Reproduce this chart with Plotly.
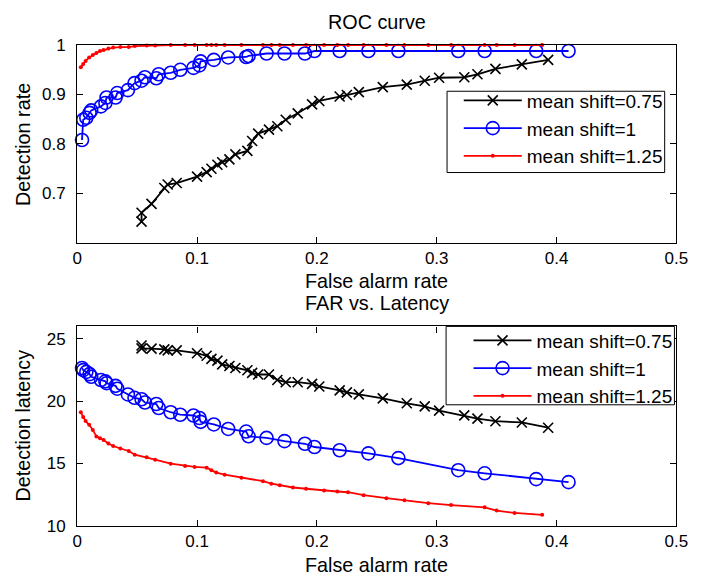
import plotly.graph_objects as go

# ---- data ----
far_075 = [0.0537, 0.0537, 0.062, 0.0727, 0.0755, 0.083, 0.100, 0.108, 0.112, 0.117,
           0.121, 0.127, 0.132, 0.142, 0.146, 0.151, 0.160, 0.167, 0.174, 0.184,
           0.196, 0.202, 0.219, 0.225, 0.235, 0.255, 0.275, 0.290, 0.302, 0.323,
           0.334, 0.349, 0.371, 0.393]
dr_075 = [0.643, 0.661, 0.679, 0.711, 0.718, 0.721, 0.734, 0.743, 0.750, 0.758,
          0.763, 0.769, 0.779, 0.786, 0.806, 0.821, 0.829, 0.836, 0.849, 0.862,
          0.880, 0.887, 0.896, 0.899, 0.905, 0.915, 0.920, 0.928, 0.934, 0.935,
          0.941, 0.952, 0.961, 0.970]
lat_075 = [24.47, 24.24, 24.22, 24.16, 24.08, 24.08, 23.85, 23.64, 23.39, 23.25,
           22.95, 22.82, 22.66, 22.48, 22.27, 22.14, 22.14, 21.70, 21.52, 21.52,
           21.39, 21.18, 20.87, 20.71, 20.54, 20.22, 19.83, 19.58, 19.24, 18.86,
           18.60, 18.39, 18.29, 17.87]

far_1 = [0.004, 0.005, 0.0076, 0.0103, 0.0117, 0.0198, 0.0235, 0.0245, 0.032, 0.0334,
         0.0423, 0.0478, 0.0537, 0.0565, 0.066, 0.068, 0.078, 0.086, 0.097, 0.102,
         0.103, 0.114, 0.126, 0.141, 0.143, 0.158, 0.173, 0.190, 0.198, 0.219,
         0.243, 0.268, 0.318, 0.340, 0.383, 0.410]
dr_1 = [0.808, 0.849, 0.853, 0.863, 0.868, 0.876, 0.883, 0.894, 0.894, 0.903,
        0.909, 0.923, 0.928, 0.935, 0.933, 0.941, 0.944, 0.950, 0.954, 0.959,
        0.967, 0.970, 0.975, 0.976, 0.978, 0.983, 0.983, 0.983, 0.988, 0.988,
        0.988, 0.988, 0.988, 0.988, 0.988, 0.988]
lat_1 = [22.66, 22.49, 22.35, 22.17, 21.96, 21.70, 21.59, 21.44, 21.23, 21.00,
         20.54, 20.27, 20.15, 19.89, 19.77, 19.45, 19.11, 18.91, 18.85, 18.65,
         18.34, 18.13, 17.77, 17.56, 17.18, 17.05, 16.79, 16.58, 16.32, 16.06,
         15.81, 15.43, 14.46, 14.21, 13.74, 13.50]

far_125 = [0.003, 0.005, 0.007, 0.010, 0.013, 0.016, 0.019, 0.022, 0.026, 0.030,
           0.036, 0.043, 0.048, 0.058, 0.065, 0.078, 0.090, 0.098, 0.108, 0.112,
           0.116, 0.123, 0.137, 0.155, 0.162, 0.169, 0.180, 0.191, 0.206, 0.217,
           0.226, 0.239, 0.258, 0.273, 0.293, 0.312, 0.340, 0.350, 0.365, 0.388]
dr_125 = [0.955, 0.962, 0.968, 0.975, 0.980, 0.984, 0.988, 0.990, 0.993, 0.995,
          0.996, 0.996, 0.998, 0.999, 0.999, 1.0, 1.0, 1.0, 1.0, 1.0,
          1.0, 1.0, 1.0, 1.0, 1.0, 1.0, 1.0, 1.0, 1.0, 1.0,
          1.0, 1.0, 1.0, 1.0, 1.0, 1.0, 1.0, 1.0, 1.0, 1.0]
lat_125 = [19.10, 18.72, 18.40, 18.10, 17.69, 17.17, 17.02, 16.88, 16.60, 16.40,
           16.20, 16.00, 15.70, 15.50, 15.30, 14.98, 14.80, 14.72, 14.66, 14.45,
           14.27, 14.10, 13.86, 13.58, 13.38, 13.25, 13.07, 12.97, 12.82, 12.75,
           12.69, 12.45, 12.21, 12.04, 11.81, 11.66, 11.48, 11.22, 11.03, 10.88]

names = ["mean shift=0.75", "mean shift=1", "mean shift=1.25"]
x_ticks = [0, 0.1, 0.2, 0.3, 0.4, 0.5]
x_tick_text = ["0", "0.1", "0.2", "0.3", "0.4", "0.5"]
roc_ticks = [0.7, 0.8, 0.9, 1.0]
roc_tick_text = ["0.7", "0.8", "0.9", "1"]
lat_ticks = [10, 15, 20, 25]

FONT = "Liberation Sans"
W, H = 704, 588

styles = [
    dict(color="black", symbol="x-thin", size=10, lw=1.6),
    dict(color="#0000ff", symbol="circle-open", size=13, lw=1.6),
    dict(color="#ff0000", symbol="circle", size=4, lw=0),
]

fig = go.Figure()
series = [(far_075, dr_075, lat_075), (far_1, dr_1, lat_1), (far_125, dr_125, lat_125)]
for i, (fx, dr, lat) in enumerate(series):
    st = styles[i]
    mk = dict(symbol=st["symbol"], size=st["size"], color=st["color"],
              line=dict(color=st["color"], width=st["lw"]))
    fig.add_trace(go.Scatter(x=fx, y=dr, mode="lines+markers", name=names[i],
                             line=dict(color=st["color"], width=1.8), marker=mk,
                             xaxis="x", yaxis="y", legend="legend", cliponaxis=False))
    fig.add_trace(go.Scatter(x=fx, y=lat, mode="lines+markers", name=names[i],
                             line=dict(color=st["color"], width=1.8), marker=mk,
                             xaxis="x2", yaxis="y2", legend="legend2", cliponaxis=False))

def px_x(p):
    return p / W

def px_y(p):
    return 1 - p / H

ax_common = dict(showline=True, linecolor="black", linewidth=1.3, mirror="ticks",
                 ticks="inside", ticklen=6, tickcolor="black", tickwidth=1,
                 showgrid=False, zeroline=False,
                 tickfont=dict(family=FONT, size=17, color="black"))

x_dom = [px_x(74), px_x(688)]
leg_font = dict(family=FONT, size=19, color="black")
fig.update_layout(
    width=W, height=H, margin=dict(l=0, r=0, t=0, b=0),
    paper_bgcolor="white", plot_bgcolor="white",
    font=dict(family=FONT, color="black"),
    xaxis=dict(domain=x_dom, anchor="y", range=[0, 0.5], tickvals=x_ticks,
               ticktext=x_tick_text, **ax_common),
    yaxis=dict(domain=[px_y(241.7), px_y(37.3)], anchor="x", range=[0.6, 1.0],
               tickvals=roc_ticks, ticktext=roc_tick_text, ticklabelstandoff=7,
               **ax_common),
    xaxis2=dict(domain=x_dom, anchor="y2", range=[0, 0.5], tickvals=x_ticks,
                ticktext=x_tick_text, **ax_common),
    yaxis2=dict(domain=[px_y(534), px_y(328)], anchor="x2", range=[10, 26],
                tickvals=lat_ticks, ticklabelstandoff=7, **ax_common),
    legend=dict(x=px_x(465), y=px_y(75), xanchor="left", yanchor="top",
                borderwidth=0, bgcolor="rgba(0,0,0,0)", font=leg_font,
                tracegroupgap=0, itemwidth=58),
    legend2=dict(x=px_x(475), y=px_y(323), xanchor="left", yanchor="top",
                 borderwidth=0, bgcolor="rgba(0,0,0,0)", font=leg_font,
                 tracegroupgap=0, itemwidth=58),
)

# legend frames
for (x0, x1, y0, y1) in [(453, 676, 85, 169), (452, 686, 328, 409)]:
    fig.add_shape(type="rect", xref="paper", yref="paper",
                  x0=px_x(x0), x1=px_x(x1), y0=px_y(y1), y1=px_y(y0),
                  line=dict(color="black", width=1), fillcolor="white", layer="above")

ann_font = dict(family=FONT, size=19.8, color="black")
annotations = [
    dict(text="ROC curve", x=px_x(381), y=px_y(13), xanchor="center", yanchor="middle"),
    dict(text="False alarm rate", x=px_x(381), y=px_y(281), xanchor="center", yanchor="middle"),
    dict(text="FAR vs. Latency", x=px_x(381), y=px_y(304), xanchor="center", yanchor="middle"),
    dict(text="False alarm rate", x=px_x(381), y=px_y(575), xanchor="center", yanchor="middle"),
    dict(text="Detection rate", x=px_x(19), y=px_y(140), xanchor="center", yanchor="middle", textangle=-90),
    dict(text="Detection latency", x=px_x(19), y=px_y(431), xanchor="center", yanchor="middle", textangle=-90),
]
for a in annotations:
    fig.add_annotation(xref="paper", yref="paper", showarrow=False, font=ann_font, **a)

fig.write_html("out.html")
